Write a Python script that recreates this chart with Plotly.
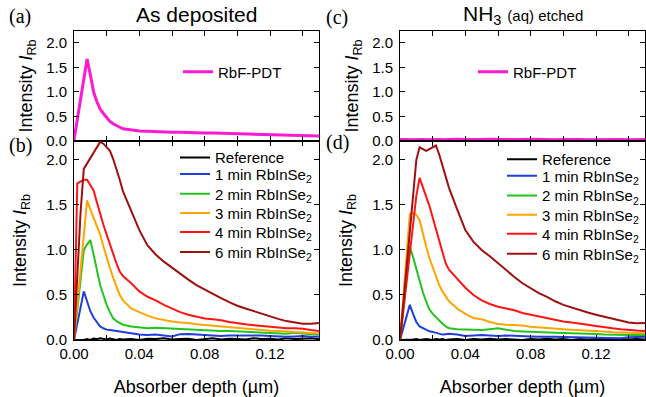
import plotly.graph_objects as go

# ---------------- data ----------------
depth = [0, .002, .004, .006, .008, .010, .012, .014, .016, .018, .020, .022, .024, .026, .028, .030,
         .035, .040, .045, .050, .055, .060, .065, .070, .075, .080, .085, .090, .095, .100,
         .105, .110, .115, .120, .125, .130, .135, .140, .145, .150]

series_names = ["Reference", "1 min RbInSe<sub>2</sub>", "2 min RbInSe<sub>2</sub>",
                "3 min RbInSe<sub>2</sub>", "4 min RbInSe<sub>2</sub>", "6 min RbInSe<sub>2</sub>"]
series_colors = ["#000000", "#1f3fd8", "#22c41e", "#ffa500", "#ff1414", "#9e0f0f"]
pdt_name = "RbF-PDT"
pdt_color = "#ff19d2"

# (a) As deposited, RbF-PDT
a_pdt = [0.02, 0.44, 0.87, 1.30, 1.67, 1.35, 1.00, 0.80, 0.65, 0.56, 0.48, 0.40, 0.35, 0.31, 0.28, 0.25,
         0.22, 0.205, 0.20, 0.19, 0.185, 0.18, 0.18, 0.17, 0.165, 0.165, 0.165, 0.16, 0.155, 0.15,
         0.15, 0.14, 0.13, 0.125, 0.12, 0.12, 0.11, 0.105, 0.10, 0.10]

# (b) As deposited, RbInSe2 series
b_ref = [0, 0, 0.005, 0, 0.01, 0, 0.015, 0.01, 0.02, 0.01, 0.005, 0.015, 0.01, 0.0, 0.01, 0.005,
         0.012, 0.0, 0.015, 0.01, 0.02, 0.005, 0.01, 0.015, 0.0, 0.01, 0.02, 0.005, 0.015, 0.01,
         0.005, 0.02, 0.01, 0.015, 0.005, 0.02, 0.01, 0.015, 0.02, 0.01]
b_1min = [0, 0.17, 0.35, 0.54, 0.43, 0.32, 0.25, 0.20, 0.15, 0.13, 0.115, 0.11, 0.105, 0.10, 0.10, 0.09,
          0.075, 0.06, 0.055, 0.06, 0.05, 0.04, 0.065, 0.067, 0.06, 0.055, 0.05, 0.045, 0.05, 0.05,
          0.055, 0.055, 0.05, 0.045, 0.04, 0.035, 0.04, 0.045, 0.035, 0.04]
b_2min = [0, 0.35, 0.69, 1.00, 1.06, 1.11, 0.95, 0.78, 0.61, 0.50, 0.39, 0.31, 0.24, 0.21, 0.19, 0.17,
          0.15, 0.14, 0.13, 0.135, 0.13, 0.125, 0.12, 0.12, 0.115, 0.11, 0.105, 0.10, 0.10, 0.095,
          0.09, 0.085, 0.08, 0.075, 0.07, 0.07, 0.08, 0.07, 0.065, 0.065]
b_3min = [0, 0.38, 0.76, 1.14, 1.55, 1.45, 1.35, 1.26, 1.17, 1.04, 0.91, 0.80, 0.69, 0.59, 0.50, 0.44,
          0.35, 0.31, 0.27, 0.24, 0.22, 0.205, 0.195, 0.19, 0.175, 0.167, 0.158, 0.148, 0.14, 0.13,
          0.12, 0.112, 0.108, 0.104, 0.10, 0.093, 0.088, 0.082, 0.078, 0.075]
b_4min = [0, 1.74, 1.76, 1.78, 1.78, 1.72, 1.66, 1.53, 1.39, 1.28, 1.17, 1.06, 0.95, 0.85, 0.76, 0.71,
          0.63, 0.54, 0.48, 0.44, 0.39, 0.35, 0.31, 0.28, 0.26, 0.24, 0.23, 0.22, 0.20, 0.185,
          0.175, 0.165, 0.155, 0.15, 0.14, 0.13, 0.13, 0.125, 0.11, 0.10]
b_6min = [0, 0.70, 1.41, 1.90, 1.96, 2.03, 2.09, 2.15, 2.20, 2.18, 2.14, 2.10, 2.01, 1.90, 1.78, 1.65,
          1.43, 1.22, 1.05, 0.95, 0.87, 0.80, 0.73, 0.67, 0.61, 0.56, 0.51, 0.465, 0.42, 0.38,
          0.35, 0.32, 0.29, 0.26, 0.235, 0.21, 0.195, 0.18, 0.18, 0.19]

# (c) NH3 (aq) etched, RbF-PDT
c_pdt = [0.03, 0.035, 0.03, 0.025, 0.03, 0.035, 0.03, 0.03, 0.025, 0.03, 0.035, 0.03, 0.03, 0.025, 0.03, 0.03,
         0.035, 0.03, 0.025, 0.03, 0.035, 0.03, 0.03, 0.025, 0.03, 0.035, 0.03, 0.03, 0.025, 0.03,
         0.035, 0.03, 0.025, 0.03, 0.03, 0.035, 0.03, 0.025, 0.03, 0.03]

# (d) NH3 (aq) etched, RbInSe2 series
d_ref = [0, 0, 0.005, 0, 0.005, 0.01, 0.0, 0.005, 0.01, 0.005, 0.0, 0.01, 0.005, 0.01, 0.0, 0.005,
         0.01, 0.0, 0.01, 0.005, 0.015, 0.005, 0.01, 0.005, 0.0, 0.01, 0.005, 0.015, 0.005, 0.01,
         0.0, 0.01, 0.005, 0.01, 0.015, 0.005, 0.01, 0.005, 0.01, 0.005]
d_1min = [0, 0.13, 0.26, 0.39, 0.29, 0.20, 0.15, 0.13, 0.11, 0.096, 0.09, 0.08, 0.07, 0.06, 0.065, 0.07,
          0.06, 0.045, 0.05, 0.056, 0.05, 0.045, 0.05, 0.044, 0.04, 0.04, 0.035, 0.037, 0.035, 0.032,
          0.03, 0.03, 0.025, 0.02, 0.02, 0.019, 0.02, 0.03, 0.035, 0.037]
d_2min = [0, 0.34, 0.69, 1.04, 0.92, 0.78, 0.66, 0.53, 0.43, 0.34, 0.29, 0.25, 0.21, 0.18, 0.15, 0.13,
          0.12, 0.115, 0.115, 0.11, 0.12, 0.13, 0.115, 0.10, 0.095, 0.09, 0.085, 0.082, 0.08, 0.078,
          0.075, 0.074, 0.07, 0.068, 0.06, 0.056, 0.056, 0.055, 0.056, 0.056]
d_3min = [0, 0.45, 0.92, 1.40, 1.41, 1.39, 1.33, 1.17, 1.04, 0.91, 0.81, 0.71, 0.61, 0.54, 0.48, 0.43,
          0.35, 0.29, 0.245, 0.23, 0.20, 0.178, 0.17, 0.167, 0.16, 0.148, 0.14, 0.13, 0.125, 0.12,
          0.115, 0.11, 0.108, 0.104, 0.095, 0.085, 0.08, 0.082, 0.078, 0.075]
d_4min = [0, 0.32, 0.64, 0.96, 1.28, 1.60, 1.80, 1.70, 1.61, 1.49, 1.36, 1.23, 1.10, 0.98, 0.85, 0.78,
          0.68, 0.58, 0.50, 0.44, 0.40, 0.37, 0.35, 0.33, 0.30, 0.28, 0.26, 0.24, 0.22, 0.205,
          0.195, 0.185, 0.17, 0.156, 0.14, 0.13, 0.12, 0.11, 0.105, 0.10]
d_6min = [0, 0.40, 0.80, 1.20, 1.60, 2.00, 2.14, 2.12, 2.10, 2.12, 2.14, 2.16, 2.06, 1.93, 1.81, 1.69,
          1.45, 1.22, 1.09, 1.00, 0.93, 0.85, 0.77, 0.70, 0.63, 0.57, 0.52, 0.48, 0.43, 0.39,
          0.36, 0.33, 0.305, 0.28, 0.26, 0.24, 0.22, 0.195, 0.185, 0.19]

x_tickvals = [0, 0.02, 0.04, 0.06, 0.08, 0.10, 0.12, 0.14]
x_ticktext = ["0.00", "", "0.04", "", "0.08", "", "0.12", ""]
y_tickvals = [0, 0.5, 1.0, 1.5, 2.0]
y_ticktext = ["0.0", "0.5", "1.0", "1.5", "2.0"]

titles = ["As deposited", "NH<sub>3</sub> <span style='font-size:15px'>(aq) etched</span>"]
panel_labels = ["(a)", "(b)", "(c)", "(d)"]
x_title = "Absorber depth (µm)"
y_title = "Intensity <i>I</i><sub>Rb</sub>"

# ---------------- figure ----------------
W, H = 646, 397
FONT = "Liberation Sans, Arial, sans-serif"
fig = go.Figure()

xl = [74 / W, 319 / W]
xr = [400 / W, 645 / W]
ytop = [1 - 141 / H, 1 - 31 / H]
ybot = [1 - 340 / H, 1 - 141 / H]

# legend entry positions (pixels): left column and right column
leg_left_x, leg_right_x = 175, 502
leg_rows_left = [157.7, 174.3, 194, 213.3, 232.3, 252.3]
leg_rows_right = [159.5, 176.1, 195.8, 215.1, 234.1, 254.1]

legends = {}
# top-left (a)
fig.add_trace(go.Scatter(x=depth, y=a_pdt, mode="lines", name=pdt_name,
                         line=dict(color=pdt_color, width=3), xaxis="x", yaxis="y", legend="legend"))
legends["legend"] = (178, 72)
# top-right (c)
fig.add_trace(go.Scatter(x=depth, y=c_pdt, mode="lines", name=pdt_name,
                         line=dict(color=pdt_color, width=3), xaxis="x3", yaxis="y3", legend="legend2"))
legends["legend2"] = (473, 72)
# bottom-left (b)
k = 3
for i, (nm, col, ys) in enumerate(zip(series_names, series_colors,
                                      [b_ref, b_1min, b_2min, b_3min, b_4min, b_6min])):
    lg = f"legend{k}"
    fig.add_trace(go.Scatter(x=depth, y=ys, mode="lines", name=nm,
                             line=dict(color=col, width=2), xaxis="x2", yaxis="y2", legend=lg))
    legends[lg] = (leg_left_x, leg_rows_left[i])
    k += 1
# bottom-right (d)
for i, (nm, col, ys) in enumerate(zip(series_names, series_colors,
                                      [d_ref, d_1min, d_2min, d_3min, d_4min, d_6min])):
    lg = f"legend{k}"
    fig.add_trace(go.Scatter(x=depth, y=ys, mode="lines", name=nm,
                             line=dict(color=col, width=2), xaxis="x4", yaxis="y4", legend=lg))
    legends[lg] = (leg_right_x, leg_rows_right[i])
    k += 1

axis_common = dict(showline=True, linecolor="black", linewidth=1, mirror="ticks",
                   ticks="inside", ticklen=5, tickcolor="black", showgrid=False, zeroline=False,
                   automargin=False,
                   tickfont=dict(family=FONT, size=15, color="black"))

def xaxis(domain, anchor, labels):
    d = dict(axis_common, domain=domain, anchor=anchor, range=[0, 0.15],
             tickvals=x_tickvals, ticktext=x_ticktext if labels else [""] * len(x_tickvals))
    if labels:
        d["title"] = dict(text=x_title, font=dict(family=FONT, size=18, color="black"), standoff=22)
    return d

def yaxis(domain, anchor, rng, standoff):
    return dict(axis_common, domain=domain, anchor=anchor, range=rng,
                tickvals=y_tickvals, ticktext=y_ticktext, ticklabelstandoff=3,
                title=dict(text=y_title, font=dict(family=FONT, size=18, color="black"), standoff=standoff))

leg_common = dict(font=dict(family=FONT, size=15, color="black"), bgcolor="rgba(0,0,0,0)",
                  xanchor="left", yanchor="middle", itemwidth=30, tracegroupgap=0, borderwidth=0)

layout_legends = {name: dict(leg_common, x=px / W, y=1 - py / H) for name, (px, py) in legends.items()}

fig.update_layout(
    template="none",
    width=W, height=H, margin=dict(l=0, r=0, t=0, b=0, autoexpand=False),
    paper_bgcolor="white", plot_bgcolor="white",
    font=dict(family=FONT, color="black"),
    xaxis=xaxis(xl, "y", False),
    yaxis=yaxis(ytop, "x", [0, 2.24], 8),
    xaxis2=xaxis(xl, "y2", True),
    yaxis2=yaxis(ybot, "x2", [0, 2.21], 14),
    xaxis3=xaxis(xr, "y3", False),
    yaxis3=yaxis(ytop, "x3", [0, 2.24], 8),
    xaxis4=xaxis(xr, "y4", True),
    yaxis4=yaxis(ybot, "x4", [0, 2.21], 14),
    showlegend=True,
    **layout_legends,
)

annotations = [
    dict(text=titles[0], x=(74 + 319) / 2 / W, y=1 - 15 / H, font=dict(family=FONT, size=21)),
    dict(text=titles[1], x=(400 + 645) / 2 / W, y=1 - 15 / H, font=dict(family=FONT, size=21)),
    dict(text=panel_labels[0], x=20 / W, y=1 - 16 / H, font=dict(family="Liberation Serif, serif", size=20)),
    dict(text=panel_labels[1], x=20 / W, y=1 - 145 / H, font=dict(family="Liberation Serif, serif", size=20)),
    dict(text=panel_labels[2], x=337 / W, y=1 - 18 / H, font=dict(family="Liberation Serif, serif", size=20)),
    dict(text=panel_labels[3], x=337 / W, y=1 - 143 / H, font=dict(family="Liberation Serif, serif", size=20)),
]
for a in annotations:
    a.update(xref="paper", yref="paper", showarrow=False, xanchor="center", yanchor="middle")
    a["font"]["color"] = "black"
fig.update_layout(annotations=annotations)

fig.write_html("out.html")
